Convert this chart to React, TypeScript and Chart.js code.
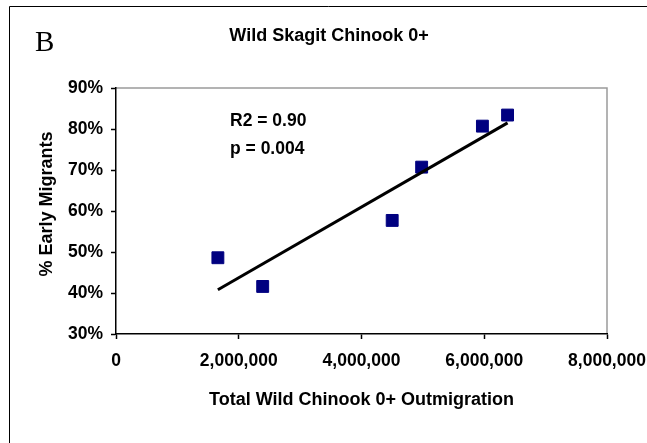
import React, { useEffect, useRef } from 'react';
import { Chart, registerables } from 'chart.js';

Chart.register(...registerables);

// ---- text ----
const panelLabel = 'B';
const chartTitle = 'Wild Skagit Chinook 0+';
const xAxisTitle = 'Total Wild Chinook 0+ Outmigration';
const yAxisTitle = '% Early Migrants';
const statLines = ['R2 = 0.90', 'p = 0.004'];

// ---- data ----
const outmigration = [1660000, 2390000, 4500000, 4980000, 5970000, 6380000];
const earlyPct = [48.6, 41.6, 57.7, 70.7, 80.7, 83.4];
const trendX = [1660000, 6380000];
const trendY = [40.8, 81.5];

// ---- ticks ----
const xTicks = [0, 2000000, 4000000, 6000000, 8000000];
const yTicks = [30, 40, 50, 60, 70, 80, 90];

const SANS = '"Liberation Sans", Arial, Helvetica, sans-serif';
const SERIF = '"Liberation Serif", "Times New Roman", Times, serif';

const decorPlugin = {
  id: 'decor',
  beforeDraw(chart: any) {
    const ctx = chart.ctx;
    const a = chart.chartArea;
    ctx.save();
    ctx.fillStyle = '#ffffff';
    ctx.fillRect(0, 0, chart.width, chart.height);
    // outer frame (top + left)
    ctx.strokeStyle = '#000000';
    ctx.lineWidth = 1;
    ctx.beginPath();
    ctx.moveTo(9.5, chart.height);
    ctx.lineTo(9.5, 6.5);
    ctx.lineTo(chart.width, 6.5);
    ctx.stroke();
    // plot area border (top + right), gray
    ctx.strokeStyle = '#9a9a9a';
    ctx.lineWidth = 1.5;
    ctx.beginPath();
    ctx.moveTo(a.left, a.top);
    ctx.lineTo(a.right, a.top);
    ctx.lineTo(a.right, a.bottom);
    ctx.stroke();
    ctx.restore();
  },
  afterDraw(chart: any) {
    const ctx = chart.ctx;
    const a = chart.chartArea;
    ctx.save();
    ctx.fillStyle = '#000000';
    // panel label
    ctx.font = `29px ${SERIF}`;
    ctx.textAlign = 'left';
    ctx.textBaseline = 'alphabetic';
    ctx.fillText(panelLabel, 35, 51);
    // chart title
    ctx.font = `bold 18px ${SANS}`;
    ctx.textAlign = 'center';
    ctx.fillText(chartTitle, 329, 41);
    // y axis title
    ctx.save();
    ctx.translate(52, 204);
    ctx.rotate(-Math.PI / 2);
    ctx.textAlign = 'center';
    ctx.textBaseline = 'alphabetic';
    ctx.fillText(yAxisTitle, 0, 0);
    ctx.restore();
    // statistics
    ctx.font = `bold 17.5px ${SANS}`;
    ctx.textAlign = 'left';
    statLines.forEach((t, i) => {
      ctx.fillText(t, a.left + 114, a.top + 38 + i * 28);
    });
    ctx.restore();
  },
};

export default function App() {
  const canvasRef = useRef<HTMLCanvasElement | null>(null);

  useEffect(() => {
    const canvas = canvasRef.current;
    if (!canvas) return;
    const tickFont = { family: SANS, size: 17.5, weight: 'bold' as const };
    const chart = new Chart(canvas, {
      type: 'scatter',
      data: {
        datasets: [
          {
            label: 'Trend',
            data: trendX.map((x, i) => ({ x, y: trendY[i] })),
            showLine: true,
            borderColor: '#000000',
            borderWidth: 3,
            pointRadius: 0,
            pointHoverRadius: 0,
            order: 0,
          },
          {
            label: chartTitle,
            data: outmigration.map((x, i) => ({ x, y: earlyPct[i] })),
            pointStyle: 'rect',
            pointRadius: 8.4,
            pointHoverRadius: 8.4,
            backgroundColor: '#000080',
            borderColor: '#000080',
            borderWidth: 1,
            order: 1,
          },
        ],
      },
      options: {
        responsive: false,
        animation: false,
        events: [],
        layout: { padding: { left: 0, right: 40, top: 88, bottom: 0 } },
        plugins: {
          legend: { display: false },
          tooltip: { enabled: false },
          title: { display: false },
        },
        scales: {
          x: {
            type: 'linear',
            position: 'bottom',
            min: 0,
            max: 8000000,
            afterBuildTicks: (s: any) => {
              s.ticks = xTicks.map((value) => ({ value }));
            },
            afterFit: (s: any) => {
              s.height = 109;
              s.paddingLeft = 0;
              s.paddingRight = 0;
            },
            grid: {
              drawOnChartArea: false,
              drawTicks: true,
              tickLength: 5,
              tickColor: '#000000',
              tickWidth: 1.5,
            },
            border: { display: true, color: '#000000', width: 1.5 },
            ticks: {
              color: '#000000',
              font: tickFont,
              padding: 12,
              maxRotation: 0,
              autoSkip: false,
              callback: (v: any) => Number(v).toLocaleString('en-US'),
            },
            title: {
              display: true,
              text: xAxisTitle,
              color: '#000000',
              font: { family: SANS, size: 18, weight: 'bold' },
              padding: { top: 0, bottom: 32 },
            },
          },
          y: {
            type: 'linear',
            position: 'left',
            min: 30,
            max: 90,
            afterBuildTicks: (s: any) => {
              s.ticks = yTicks.map((value) => ({ value }));
            },
            afterFit: (s: any) => {
              s.width = 116;
              s.paddingTop = 0;
              s.paddingBottom = 0;
            },
            grid: {
              drawOnChartArea: false,
              drawTicks: true,
              tickLength: 5,
              tickColor: '#000000',
              tickWidth: 1.5,
            },
            border: { display: true, color: '#000000', width: 1.5 },
            ticks: {
              color: '#000000',
              font: tickFont,
              padding: 8,
              autoSkip: false,
              callback: (v: any) => `${v}%`,
            },
          },
        },
      },
      plugins: [decorPlugin],
    });
    return () => chart.destroy();
  }, []);

  return (
    <div
      style={{
        position: 'fixed',
        left: 0,
        top: 0,
        width: 647,
        height: 443,
        background: '#ffffff',
      }}
    >
      <canvas
        ref={canvasRef}
        width={647}
        height={443}
        style={{ display: 'block', width: 647, height: 443 }}
      />
    </div>
  );
}
